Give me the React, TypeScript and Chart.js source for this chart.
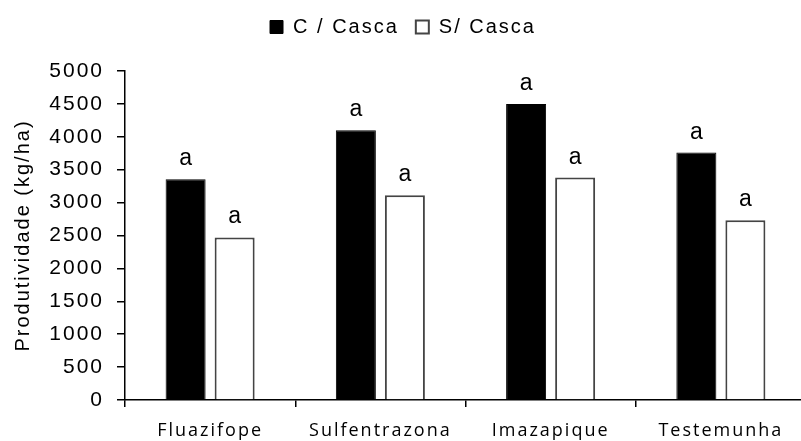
import React, { useEffect, useRef } from "react";
import { Chart, registerables } from "chart.js";

Chart.register(...registerables);

const categories = ["Fluazifope", "Sulfentrazona", "Imazapique", "Testemunha"];
const seriesNames = ["C / Casca", "S/ Casca"];
const comCasca = [3355, 4100, 4500, 3760];
const semCasca = [2470, 3110, 3380, 2730];
const sigComCasca = ["a", "a", "a", "a"];
const sigSemCasca = ["a", "a", "a", "a"];
const yTitle = "Produtividade (kg/ha)";
const yMin = 0;
const yMax = 5000;
const yStep = 500;

const spacingPlugin = {
  id: "letterSpacing",
  beforeUpdate(chart: any) {
    chart.ctx.letterSpacing = "2px";
  },
  beforeDraw(chart: any) {
    chart.ctx.letterSpacing = "2px";
  },
};

const sigPlugin = {
  id: "sigLetters",
  afterDatasetsDraw(chart: any) {
    const ctx = chart.ctx;
    const sigs = [sigComCasca, sigSemCasca];
    ctx.save();
    ctx.letterSpacing = "0px";
    ctx.font = '23px "Liberation Sans", Arial, sans-serif';
    ctx.fillStyle = "#000";
    ctx.textAlign = "center";
    ctx.textBaseline = "alphabetic";
    chart.data.datasets.forEach((_ds: any, di: number) => {
      const meta = chart.getDatasetMeta(di);
      meta.data.forEach((bar: any, i: number) => {
        ctx.fillText(sigs[di][i], bar.x, bar.y - 14);
      });
    });
    ctx.restore();
  },
};

export default function App() {
  const ref = useRef<HTMLCanvasElement | null>(null);

  useEffect(() => {
    document.documentElement.style.overflow = "hidden";
    document.body.style.overflow = "hidden";
    document.body.style.margin = "0";
    const canvas = ref.current;
    if (!canvas) return;
    const chart = new Chart(canvas, {
      type: "bar",
      data: {
        labels: categories,
        datasets: [
          {
            label: seriesNames[0],
            data: comCasca,
            backgroundColor: "#000000",
            borderColor: "#000000",
            borderWidth: 1,
          },
          {
            label: seriesNames[1],
            data: semCasca,
            backgroundColor: "#ffffff",
            borderColor: "#444444",
            borderWidth: 2,
          },
        ],
      },
      options: {
        responsive: false,
        animation: false,
        devicePixelRatio: 1,
        layout: { padding: 0 },
        datasets: {
          bar: { categoryPercentage: 0.576, barPercentage: 0.816 },
        },
        plugins: {
          tooltip: { enabled: false },
          legend: {
            position: "top",
            align: "center",
            weight: 3000,
            labels: {
              boxWidth: 13,
              boxHeight: 13,
              padding: 17,
              color: "#000",
              font: { family: '"Liberation Sans", Arial, sans-serif', size: 20 },
            },
          },
          title: {
            display: true,
            text: "",
            weight: 500,
            font: { size: 1, lineHeight: 1 },
            padding: { top: 12, bottom: 11 },
          },
        },
        scales: {
          x: {
            afterFit: (s: any) => {
              s.height = 41;
            },
            grid: {
              display: true,
              drawOnChartArea: false,
              drawTicks: true,
              tickLength: 7,
              color: "#000",
              lineWidth: 1.5,
              offset: true,
            },
            border: { display: true, color: "#000", width: 1.5 },
            ticks: {
              color: "#000",
              padding: 13,
              font: { family: '"Open Sans", sans-serif', size: 18 },
              maxRotation: 0,
              autoSkip: false,
            },
          },
          y: {
            min: yMin,
            max: yMax,
            afterFit: (s: any) => {
              s.width = 125;
            },
            grid: {
              display: true,
              drawOnChartArea: false,
              drawTicks: true,
              tickLength: 8,
              color: "#000",
              lineWidth: 1.5,
            },
            border: { display: true, color: "#000", width: 1.5 },
            ticks: {
              stepSize: yStep,
              color: "#000",
              padding: 13,
              font: { family: '"Liberation Sans", Arial, sans-serif', size: 21 },
              callback: (v: any) => String(v),
            },
            title: {
              display: true,
              text: yTitle,
              color: "#000",
              padding: { top: 11, bottom: 0 },
              font: { family: '"Liberation Sans", Arial, sans-serif', size: 20 },
            },
          },
        },
      },
      plugins: [spacingPlugin, sigPlugin],
    } as any);
    return () => chart.destroy();
  }, []);

  return (
    <div style={{ position: "absolute", left: 0, top: 0, width: 806, height: 441 }}>
      <canvas ref={ref} width={806} height={441} style={{ width: 806, height: 441, display: "block" }} />
    </div>
  );
}
